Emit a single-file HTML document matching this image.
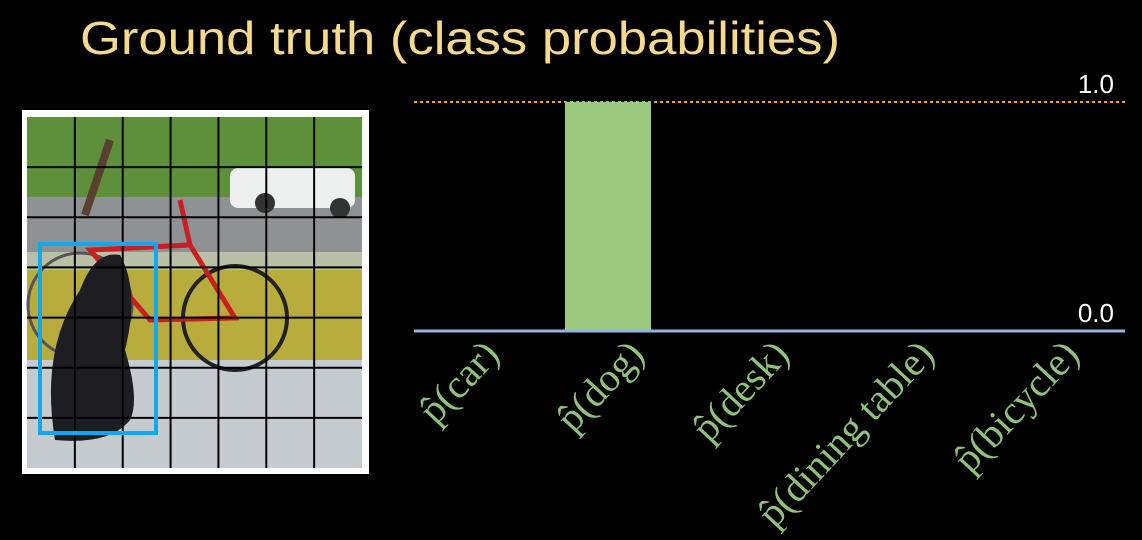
<!DOCTYPE html>
<html><head><meta charset="utf-8"><style>
body{margin:0;background:#000;width:1142px;height:540px;overflow:hidden}
svg{display:block}
</style></head><body>
<svg width="1142" height="540" viewBox="0 0 1142 540">
<text x="80" y="54" fill="#f7d98d" font-family="Liberation Sans, sans-serif" font-size="46" textLength="760" lengthAdjust="spacingAndGlyphs">Ground truth (class probabilities)</text>
<g>
<rect x="22" y="110" width="347" height="364" fill="#fff"/>
<rect x="27" y="117" width="335" height="351" fill="#c9ccd0"/>
<rect x="27" y="117" width="335" height="80" fill="#5e8f3a"/>
<rect x="27" y="197" width="335" height="60" fill="#8f9294"/>
<rect x="27" y="252" width="335" height="20" fill="#b8c0a8"/>
<rect x="27" y="270" width="335" height="90" fill="#b8ad3c"/>
<rect x="27" y="360" width="335" height="108" fill="#c6cbd0"/>
<rect x="230" y="168" width="125" height="40" rx="8" fill="#eef0f0"/>
<circle cx="265" cy="203" r="10" fill="#333"/><circle cx="340" cy="208" r="10" fill="#333"/>
<path d="M85 215 L100 170 L110 140" stroke="#5a4030" stroke-width="8" fill="none"/>
<circle cx="235" cy="318" r="52" fill="none" stroke="#222" stroke-width="4"/>
<circle cx="80" cy="305" r="52" fill="none" stroke="#555" stroke-width="3"/>
<path d="M90 250 L190 245 L235 318 L150 320 Z M190 245 L180 200" stroke="#c82020" stroke-width="5" fill="none"/>
<path d="M55 440 Q40 350 80 290 Q95 250 120 255 Q140 290 125 350 Q140 400 130 420 Q110 445 55 440 Z" fill="#1e1e22"/>
<g stroke="#000" stroke-width="2" id="grid"></g>
<rect x="40" y="244" width="116" height="189" fill="none" stroke="#12a8ec" stroke-width="4"/>
</g>
<g id="chart"></g>
</svg>
<script>
const categories=["p̂(car)","p̂(dog)","p̂(desk)","p̂(dining table)","p̂(bicycle)"];
const values=[0,1,0,0,0];
const tickValues=[0,1];
const tickLabels=["0.0","1.0"];
const NS="http://www.w3.org/2000/svg";
function mk(t,a,p){const e=document.createElementNS(NS,t);for(const k in a)e.setAttribute(k,a[k]);p.appendChild(e);return e;}
const gridG=document.getElementById('grid');
for(let i=1;i<7;i++){
 const gx=27+i*335/7, gy=117+i*351/7;
 const l1=mk('line',{x1:gx,y1:117,x2:gx,y2:468},gridG);
 
 
 const l2=mk('line',{x1:27,y1:gy,x2:362,y2:gy},gridG);
 
 
}
const chartG=document.getElementById('chart');
const baseY=331,maxY=102;
const yS=v=>baseY+(maxY-baseY)*v;
const firstX=471,step=137,bw=86;
const xS=i=>firstX+i*step;
const topLine=mk('line',{x1:414,y1:yS(1),x2:1125,y2:yS(1),stroke:"#f0a020","stroke-width":2,"stroke-dasharray":"3,3"},chartG);


values.forEach((v,i)=>{
 const r=mk('rect',{x:xS(i)-bw/2,y:yS(v),width:bw,height:Math.max(0,baseY-yS(v)),fill:"#9bc97e"},chartG);
 
 
 const t=mk('text',{x:0,y:0,fill:"#8fc27a","font-family":"Liberation Serif, serif","font-size":40,"text-anchor":"end",transform:`translate(${xS(i)+30+i*8},${356}) rotate(-47)`},chartG);
 t.textContent=categories[i];
 
 
});
const ax=mk('line',{x1:414,y1:baseY,x2:1125,y2:baseY,stroke:"#8fb8e0","stroke-width":3},chartG);


tickValues.forEach((v,i)=>{
 const t=mk('text',{x:1114,y:yS(v)-9,fill:"#fff","font-family":"Liberation Sans, sans-serif","font-size":26,"text-anchor":"end"},chartG);
 t.textContent=tickLabels[i];
 
 
});
</script>
</body></html>
